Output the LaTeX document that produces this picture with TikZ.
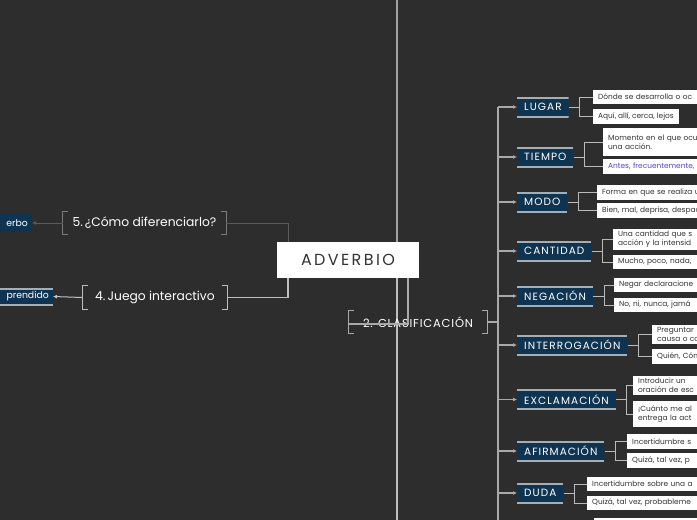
\documentclass[tikz,border=0pt]{standalone}
\usepackage{fontspec}
\setmainfont{Poppins}
\newfontfamily\capsfont[LetterSpace=7]{Poppins}
\newfontfamily\catfont[LetterSpace=10]{Poppins}
\newfontfamily\widefont[LetterSpace=15]{Poppins}
\usetikzlibrary{arrows.meta,positioning}
\definecolor{bgdark}{HTML}{2D2D2D}
\definecolor{navy}{HTML}{0F3452}
\definecolor{rimgray}{HTML}{A3AEB6}
\definecolor{linegray}{HTML}{A9A9A9}
\definecolor{dimgray}{HTML}{5A5A5A}
\definecolor{inkgray}{HTML}{333333}
\definecolor{violet}{HTML}{5B45C9}
\tikzset{
  cat/.style={fill=navy,text=white,font=\catfont\fontsize{10.5}{11}\selectfont,
    minimum height=20pt,inner xsep=7pt,anchor=west,
    path picture={\draw[rimgray,line width=3pt]
      (path picture bounding box.north west)--(path picture bounding box.north east)
      (path picture bounding box.south west)--(path picture bounding box.south east);}},
  leaf/.style={fill=white,text=inkgray,font=\fontsize{7.4}{8.8}\selectfont,
    anchor=west,inner xsep=5pt,inner ysep=2.6pt,minimum height=14.5pt,align=left},
  cut/.style={leaf,text width=140pt},
  link/.style={draw=linegray!80,line width=1pt},
  arr/.style={draw=linegray,line width=1.2pt,-{Latex[length=4pt,width=4pt]}},
  dimarr/.style={draw=dimgray,line width=1pt,-{Latex[length=4pt,width=4pt]}}
}
% square brackets round a topic
\newcommand\brk[2][linegray]{%
  \draw[#1,line width=1.3pt] ([xshift=5pt]#2.north west) -| (#2.south west) -- ++(5pt,0)
    ([xshift=-5pt]#2.north east) -| (#2.south east) -- ++(-5pt,0);}
\begin{document}
\begin{tikzpicture}[x=1pt,y=-1pt]
\useasboundingbox (0,0) rectangle (697,520);
\clip (0,0) rectangle (697,520);
\fill[bgdark] (0,0) rectangle (697,520);
\coordinate (vtop) at (397,0); \coordinate (vbot) at (397,520);
\coordinate (tk) at (498,107); \coordinate (tkend) at (498,525);
\draw[linegray!110,line width=1.8pt] (vtop) -- (397,250);
\draw[linegray!75,line width=1.2pt] (397,270) -- (vbot);
\draw[linegray,line width=1.2pt] (tk) -- (tkend);
% centre
\node[fill=white,text=inkgray,minimum width=142pt,minimum height=36pt,
  font=\widefont\fontsize{16}{18}\selectfont] (adv) at (348,260) {ADVERBIO};
\node[text=white,minimum width=138pt,minimum height=22pt,
  font=\capsfont\fontsize{11.5}{13}\selectfont] (cls) at (418,322) {2. CLASIFICACIÓN};
\brk[linegray]{cls}
\draw[linegray,line width=1.2pt] (adv.south -| 408,0) -- (408,324) -- (cls.west |- 0,324);
\draw[linegray,line width=1.2pt] (cls.east) -- (tk |- cls.east);
% left side
\node[text=white,minimum width=163pt,minimum height=22pt,font=\fontsize{12.3}{14}\selectfont]
  (dif) at (144.5,223) {5.\,¿Cómo diferenciarlo?};
\brk[dimgray!80]{dif}
\node[text=white,minimum width=144pt,minimum height=23pt,font=\fontsize{12.3}{14}\selectfont]
  (jue) at (155,297.5) {4.\,Juego interactivo};
\brk[linegray!75]{jue}
\node[fill=navy,text=white,font=\fontsize{9.3}{10}\selectfont,text width=50pt,align=right,
  minimum height=18pt,inner xsep=4pt,anchor=east] (verb) at (32,223) {erbo};
\node[cat,font=\fontsize{9.3}{10}\selectfont,text width=60pt,align=right,minimum height=17pt,
  inner xsep=4pt,anchor=east] (apr) at (53,296.5) {prendido};
\draw[dimarr] (dif.west) -- (verb.east);
\draw[dimarr,draw=linegray!70] (jue.west) -- (apr.east);
\draw[dimgray,line width=1pt] (dif.east) -| ([xshift=-60pt]adv.north);
\draw[linegray!75,line width=1.2pt] (jue.east) -| ([xshift=-60pt]adv.south);
% kinds of adverb
\foreach \nm/\y/\txt in {lug/107/LUGAR,tie/157/TIEMPO,mod/202/MODO,can/251/CANTIDAD,
  neg/296/NEGACIÓN,int/345/INTERROGACIÓN,exc/399.5/EXCLAMACIÓN,afi/451/AFIRMACIÓN,dud/493/DUDA}
  \node[cat] (\nm) at (517,\y) {\txt};
\foreach \nm in {lug,tie,mod,can,neg,int,exc,afi,dud}
  \draw[arr] (tk |- \nm.west) -- (\nm.west);
% examples
\node[cut] (lug1) at (593,97) {Dónde se desarrolla o oc};
\node[leaf] (lug2) at (593,116.5) {Aquí, allí, cerca, lejos};
\node[cut,minimum height=28pt] (tie1) at (603,142) {Momento en el que ocu\\una acción.};
\node[cut,text=violet] (tie2) at (603,166.5) {Antes, frecuentemente,};
\node[cut] (mod1) at (597,192.5) {Forma en que se realiza u};
\node[cut] (mod2) at (597,210.5) {Bien, mal, deprisa, despac};
\node[cut] (can1) at (613,239.5) {Una cantidad que s\\acción y la intensid};
\node[cut] (can2) at (613,262) {Mucho, poco, nada,};
\node[cut] (neg1) at (614,285) {Negar declaracione};
\node[cut] (neg2) at (614,305) {No, ni, nunca, jamá};
\node[cut] (int1) at (652,334.5) {Preguntar\\causa o co};
\node[cut] (int2) at (652,356.5) {Quién, Cóm};
\node[cut] (exc1) at (633,385.5) {Introducir un\\oración de esc};
\node[cut,minimum height=26pt] (exc2) at (633,414) {¡Cuánto me al\\entrega la act};
\node[cut] (afi1) at (627,441.5) {Incertidumbre s};
\node[cut] (afi2) at (627,460.5) {Quizá, tal vez, p};
\node[cut] (dud1) at (587,484) {Incertidumbre sobre una a};
\node[cut] (dud2) at (587,503) {Quizá, tal vez, probableme};
\foreach \nm in {lug,tie,mod,can,neg,int,exc,afi,dud}{
  \draw[link] (\nm.east) -- ++(11,0) |- (\nm1.west);
  \draw[link] (\nm.east) -- ++(11,0) |- (\nm2.west);}
\fill[white] (594,518) rectangle (700,530);
\end{tikzpicture}
\end{document}
